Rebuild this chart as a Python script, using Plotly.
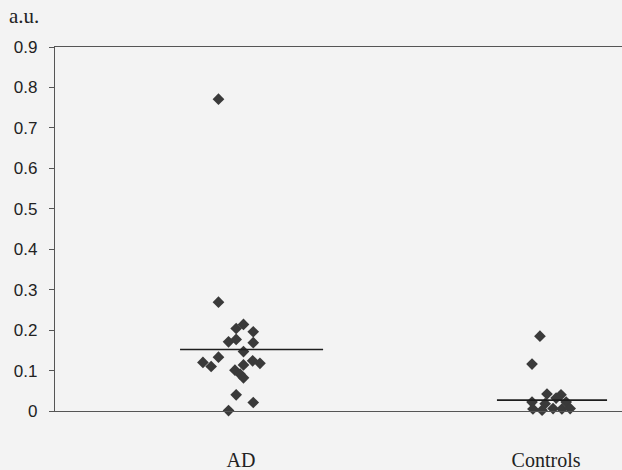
import plotly.graph_objects as go

# ---- data ----
categories = ["AD", "Controls"]
cat_pos = [1, 2]

ad_values = [0.771, 0.269, 0.214, 0.204, 0.196, 0.171, 0.177, 0.169, 0.147, 0.133,
             0.120, 0.110, 0.124, 0.118, 0.114, 0.101, 0.091, 0.082, 0.040, 0.021, 0.001]
ad_jitter = [-0.074, -0.074, 0.008, -0.016, 0.040, -0.041, -0.016, 0.040, 0.008, -0.074,
             -0.125, -0.098, 0.038, 0.062, 0.008, -0.020, -0.003, 0.008, -0.016, 0.040, -0.041]

ctrl_values = [0.185, 0.116, 0.042, 0.040, 0.032, 0.022, 0.022, 0.018, 0.005, 0.002,
               0.006, 0.005, 0.006]
ctrl_jitter = [-0.020, -0.046, 0.003, 0.049, 0.033, -0.046, 0.066, -0.003, -0.043, -0.013,
               0.023, 0.052, 0.079]

medians = [0.152, 0.027]
median_span = [(-0.200, 0.269), (-0.161, 0.200)]

y_ticks = [0, 0.1, 0.2, 0.3, 0.4, 0.5, 0.6, 0.7, 0.8, 0.9]
y_ticktext = ["0", "0.1", "0.2", "0.3", "0.4", "0.5", "0.6", "0.7", "0.8", "0.9"]

marker_color = "#3a3a3a"
bg = "#f3f3f3"

fig = go.Figure()

fig.add_trace(go.Scatter(
    x=[cat_pos[0] + j for j in ad_jitter], y=ad_values, mode="markers",
    marker=dict(symbol="diamond", size=9, color=marker_color),
    cliponaxis=False, showlegend=False))
fig.add_trace(go.Scatter(
    x=[cat_pos[1] + j for j in ctrl_jitter], y=ctrl_values, mode="markers",
    marker=dict(symbol="diamond", size=9, color=marker_color),
    cliponaxis=False, showlegend=False))

for pos, med, (a, b) in zip(cat_pos, medians, median_span):
    fig.add_trace(go.Scatter(
        x=[pos + a, pos + b], y=[med, med], mode="lines",
        line=dict(color="#1e1e1e", width=1.6), showlegend=False))

fig.update_layout(
    width=622, height=470,
    margin=dict(l=55, r=0, t=47, b=59),
    paper_bgcolor=bg, plot_bgcolor=bg,
    xaxis=dict(range=[0.390, 2.249], tickvals=cat_pos, ticktext=categories,
               showgrid=False, zeroline=False, showline=True, linecolor="#555555",
               linewidth=1.3, mirror=True, ticks="", ticklabelstandoff=31,
               automargin=False,
               tickfont=dict(family="Liberation Serif", size=20, color="#222222")),
    yaxis=dict(range=[0, 0.9], tickvals=y_ticks, ticktext=y_ticktext,
               showgrid=False, zeroline=False, showline=True, linecolor="#555555",
               linewidth=1.3, ticks="outside", ticklen=5, tickcolor="#555555",
               ticklabelstandoff=8, automargin=False,
               tickfont=dict(family="Liberation Sans", size=17, color="#222222")),
    annotations=[dict(text="a.u.", xref="paper", yref="paper", x=-0.085, y=1.085,
                      xanchor="left", yanchor="middle", showarrow=False,
                      font=dict(family="Liberation Serif", size=21, color="#222222"))],
)

fig.write_html("out.html")
